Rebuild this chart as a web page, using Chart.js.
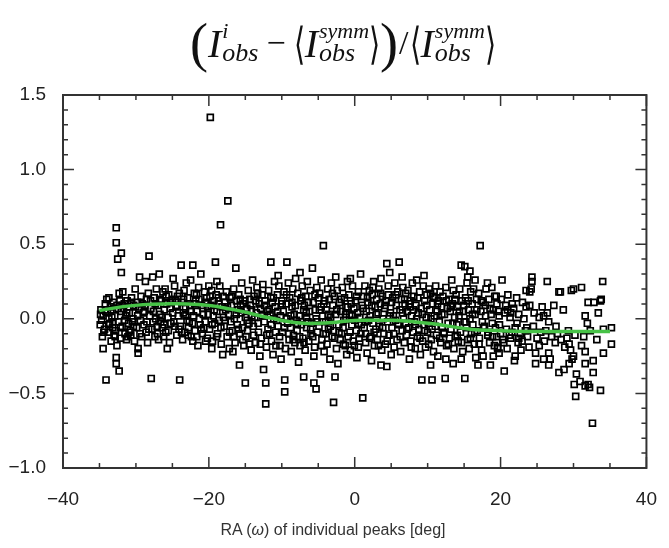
<!DOCTYPE html>
<html>
<head>
<meta charset="utf-8">
<script src="https://cdn.jsdelivr.net/npm/chart.js@4.4.0/dist/chart.umd.min.js"></script>
<style>
  html, body { margin:0; padding:0; background:#fff; }
  #wrap { position:relative; width:669px; height:548px; }
  #chart { position:absolute; left:0; top:0; }
  #formula { position:absolute; top:12px; left:0; width:686px; display:flex; justify-content:center; align-items:center;
             font-family:'Liberation Serif','Times New Roman',serif; color:#111; }
  #formula .I { font-style:italic; font-size:40px; }
  #formula .ss { display:inline-flex; flex-direction:column; font-style:italic; line-height:0.9; margin-left:1px; }
  #formula .sup { font-size:22px; }
  #formula .sub { font-size:26px; }
  #formula .br { font-size:54px; }
  #formula .ang { font-family:'DejaVu Sans'; font-size:44px; font-weight:200; display:inline-block; transform:scaleX(0.65); margin:0 -3px; }
  #formula .op { font-size:34px; margin:0 8px; }
  #xtitle { position:absolute; left:0; width:666px; top:521px; text-align:center;
            font-family:'Liberation Sans',Arial,sans-serif; font-size:16px; color:#333; }
</style>
</head>
<body>
<div id="wrap">
  <canvas id="chart" width="669" height="548"></canvas>
  <div id="formula">
    <span class="br">(</span><span class="I">I</span><span class="ss"><span class="sup">i</span><span class="sub">obs</span></span>
    <span class="op">−</span>
    <span class="ang">⟨</span><span class="I">I</span><span class="ss"><span class="sup">symm</span><span class="sub">obs</span></span><span class="ang">⟩</span><span class="br">)</span><span class="op" style="margin:0 1px">/</span><span class="ang">⟨</span><span class="I">I</span><span class="ss"><span class="sup">symm</span><span class="sub">obs</span></span><span class="ang">⟩</span>
  </div>
  <div id="xtitle">RA (<i>ω</i>) of individual peaks [deg]</div>
</div>
<script>
// axis ranges and ticks
var xTicks = [-40, -20, 0, 20, 40];
var yTicks = [-1.0, -0.5, 0.0, 0.5, 1.0, 1.5];

// smoothed trend (green)
var fitRA    = [-35, -32, -29, -26, -23, -20, -17, -15, -13, -11, -9, -7, -5, -3, -1, 1, 3, 5, 7, 9, 11, 13, 15, 17, 20, 25, 30, 35];
var fitRatio = [0.055, 0.08, 0.095, 0.10, 0.10, 0.09, 0.065, 0.045, 0.02, 0.0, -0.02, -0.03, -0.03, -0.025, -0.015, -0.01, -0.01, -0.01, -0.015, -0.025, -0.035, -0.05, -0.065, -0.075, -0.08, -0.085, -0.085, -0.085];

// individual peaks [RA deg, ratio]
var peaksEast = [
  [-34.9,-0.04],[-34.8,0.06],[-34.6,-0.12],[-34.5,0.02],[-34.3,-0.07],[-34.2,0.10],[-34.1,-0.41],[-34.5,-0.20],[-34.0,0.13],[-34.7,-0.01],
  [-33.9,0.04],[-33.8,-0.09],[-33.7,0.14],[-33.6,-0.03],[-33.5,0.08],[-33.4,-0.15],[-33.3,0.01],[-33.2,-0.06],[-33.1,0.11],[-33.0,-0.11],
  [-32.7,0.61],[-32.7,0.51],[-32.7,-0.26],[-32.7,-0.30],[-32.5,0.40],[-32.3,-0.35],[-32.0,0.44],[-32.0,0.31],
  [-32.9,0.02],[-32.8,-0.08],[-32.6,0.09],[-32.4,-0.02],[-32.2,0.12],[-32.1,-0.13],[-32.0,0.05],[-32.6,-0.18],[-32.3,0.17],
  [-31.9,-0.05],[-31.8,0.18],[-31.7,0.07],[-31.5,-0.10],[-31.4,0.02],[-31.3,-0.14],[-31.2,0.12],[-31.1,-0.12],[-31.0,-0.03],[-31.6,0.10],
  [-30.9,0.04],[-30.8,-0.08],[-30.6,0.14],[-30.5,-0.02],[-30.3,0.09],[-30.2,-0.15],[-30.1,0.20],[-30.7,-0.11],[-30.4,0.00],
  [-29.9,-0.06],[-29.7,-0.20],[-29.7,-0.23],[-29.5,0.28],[-29.6,0.07],[-29.4,-0.01],[-29.3,0.15],[-29.2,-0.12],[-29.0,0.04],[-29.8,0.11],
  [-28.7,0.25],[-28.9,-0.04],[-28.8,0.09],[-28.6,-0.09],[-28.4,-0.16],[-28.3,0.17],[-28.2,0.42],[-28.1,0.02],[-28.5,-0.02],[-28.0,0.12],
  [-27.9,-0.40],[-27.7,0.28],[-27.8,-0.07],[-27.6,0.05],[-27.5,0.14],[-27.4,-0.12],[-27.3,0.00],[-27.2,0.20],[-27.1,-0.05],[-27.0,0.09],
  [-26.8,0.30],[-26.9,-0.14],[-26.7,0.03],[-26.5,0.12],[-26.4,-0.06],[-26.3,0.18],[-26.2,-0.12],[-26.0,0.20],[-26.1,0.06],[-26.6,-0.02],
  [-25.9,-0.09],[-25.8,0.10],[-25.6,0.01],[-25.5,0.16],[-25.4,-0.16],[-25.3,0.07],[-25.2,-0.03],[-25.0,0.13],[-24.9,0.27],[-25.7,-0.20],
  [-24.8,-0.02],[-24.7,0.22],[-24.5,0.08],[-24.4,-0.11],[-24.3,0.15],[-24.2,0.02],[-24.0,-0.41],[-24.1,-0.07],[-24.6,0.12],
  [-23.8,0.36],[-23.9,-0.05],[-23.7,0.11],[-23.6,-0.14],[-23.5,0.04],[-23.4,0.19],[-23.3,-0.09],[-23.2,0.07],[-23.0,-0.01],[-23.1,0.24],
  [-22.9,0.14],[-22.8,-0.06],[-22.6,0.09],[-22.5,0.26],[-22.4,-0.12],[-22.2,0.36],[-22.2,-0.15],[-22.1,0.02],[-22.0,0.17],[-22.7,-0.02],
  [-21.9,-0.08],[-21.8,0.12],[-21.6,0.05],[-21.5,-0.18],[-21.4,0.21],[-21.2,-0.04],[-21.1,0.30],[-21.0,0.09],[-21.3,0.00],[-21.7,0.16],
  [-20.9,-0.10],[-20.8,0.07],[-20.6,0.18],[-20.5,-0.02],[-20.4,0.11],[-20.2,-0.13],[-20.1,0.03],[-20.0,0.22],[-20.7,-0.06],[-20.3,0.14],
  [-19.8,1.35],[-19.9,-0.07],[-19.7,0.09],[-19.6,0.19],[-19.5,-0.15],[-19.4,0.02],[-19.3,0.12],[-19.1,0.38],[-19.2,-0.03],[-19.0,0.16],[-19.6,-0.20],
  [-18.4,0.63],[-18.9,0.05],[-18.8,-0.10],[-18.7,0.14],[-18.6,-0.01],[-18.5,0.22],[-18.3,-0.17],[-18.1,-0.24],[-18.2,0.08],[-18.0,0.01],[-18.9,0.25],
  [-17.4,0.79],[-17.9,-0.05],[-17.8,0.11],[-17.6,0.18],[-17.5,-0.12],[-17.3,0.03],[-17.2,-0.20],[-17.1,0.14],[-17.0,-0.02],[-17.7,0.06],
  [-16.9,0.09],[-16.8,-0.08],[-16.6,0.20],[-16.5,0.00],[-16.4,-0.16],[-16.3,0.34],[-16.2,0.12],[-16.1,-0.04],[-16.0,0.06],[-16.7,-0.22],
  [-15.9,0.16],[-15.8,-0.31],[-15.8,-0.10],[-15.6,0.04],[-15.5,0.24],[-15.4,-0.06],[-15.3,0.10],[-15.0,-0.43],[-15.2,-0.18],[-15.0,0.01],[-15.7,0.13],
  [-14.9,-0.12],[-14.8,0.07],[-14.6,0.19],[-14.5,-0.03],[-14.4,0.13],[-14.2,-0.21],[-14.1,0.02],[-14.0,0.26],[-14.7,-0.08],[-14.3,0.09],
  [-13.9,-0.05],[-13.8,0.15],[-13.6,-0.16],[-13.5,0.04],[-13.4,0.21],[-13.2,-0.09],[-13.1,0.10],[-13.0,-0.25],[-13.7,0.01],[-13.3,0.17],
  [-12.9,0.07],[-12.8,-0.13],[-12.6,0.23],[-12.5,-0.34],[-12.4,-0.02],[-12.2,-0.43],[-12.2,-0.57],[-12.3,0.12],[-12.1,-0.19],[-12.0,0.05],[-12.7,0.16],
  [-11.9,-0.07],[-11.8,0.19],[-11.6,0.03],[-11.5,0.38],[-11.4,-0.15],[-11.3,0.11],[-11.2,-0.24],[-11.1,0.00],[-11.0,0.25],[-11.7,-0.10],[-11.5,0.14],
  [-10.9,0.08],[-10.8,-0.18],[-10.6,0.16],[-10.5,-0.05],[-10.4,0.22],[-10.3,-0.12],[-10.2,0.02],[-10.1,-0.27],[-10.0,0.12],[-10.7,-0.01],[-10.5,0.29]
];

var peaksCentre = [
  [-9.9,-0.09],[-9.8,0.05],[-9.6,-0.41],[-9.6,-0.49],[-9.3,0.38],[-9.7,0.18],[-9.5,-0.20],[-9.4,0.10],[-9.2,-0.03],[-9.1,0.24],[-9.0,-0.14],[-9.3,0.00],
  [-8.9,0.14],[-8.8,-0.06],[-8.7,-0.22],[-8.6,0.08],[-8.5,0.20],[-8.4,-0.11],[-8.3,0.03],[-8.2,-0.16],[-8.1,0.27],[-8.0,-0.01],[-8.6,0.11],
  [-7.9,-0.08],[-7.7,-0.29],[-7.8,0.17],[-7.6,0.02],[-7.5,-0.18],[-7.4,0.12],[-7.3,-0.04],[-7.2,0.22],[-7.1,-0.13],[-7.0,-0.39],[-7.0,0.06],[-7.5,0.31],
  [-6.9,0.09],[-6.8,-0.21],[-6.7,0.15],[-6.6,-0.06],[-6.5,0.25],[-6.4,-0.02],[-6.3,-0.15],[-6.2,0.05],[-6.1,0.19],[-6.0,-0.10],[-6.6,0.01],
  [-5.8,0.34],[-5.6,-0.43],[-5.3,-0.47],[-5.9,-0.03],[-5.7,0.11],[-5.5,-0.19],[-5.4,0.06],[-5.2,0.21],[-5.1,-0.09],[-5.0,0.14],[-5.6,-0.25],[-5.3,0.00],
  [-4.9,-0.05],[-4.7,-0.37],[-4.8,0.17],[-4.6,0.08],[-4.5,-0.14],[-4.3,0.49],[-4.4,0.02],[-4.2,-0.22],[-4.1,0.12],[-4.0,-0.02],[-4.6,0.26],[-4.3,-0.10],
  [-3.9,0.06],[-3.8,-0.17],[-3.7,0.20],[-3.6,-0.07],[-3.5,0.13],[-3.4,-0.27],[-3.3,0.01],[-3.2,0.24],[-3.1,-0.12],[-3.0,0.09],[-3.6,-0.02],
  [-2.9,-0.56],[-2.7,-0.39],[-2.3,-0.30],[-2.9,-0.08],[-2.8,0.15],[-2.6,0.03],[-2.5,-0.20],[-2.4,0.19],[-2.2,-0.04],[-2.1,0.11],[-2.0,-0.14],[-2.6,0.28],
  [-1.9,0.05],[-1.8,-0.10],[-1.7,0.21],[-1.5,-0.01],[-1.4,0.14],[-1.3,-0.18],[-1.2,0.08],[-1.1,-0.24],[-1.0,0.25],[-1.6,-0.06],[-1.2,0.01],
  [-0.9,-0.12],[-0.8,0.16],[-0.7,0.03],[-0.6,-0.21],[-0.5,0.10],[-0.4,-0.04],[-0.3,0.22],[-0.2,-0.15],[-0.1,0.07],[0.0,-0.01],[-0.6,0.27],
  [0.1,0.12],[0.2,-0.08],[0.3,-0.26],[0.4,0.04],[0.5,0.18],[0.6,-0.13],[0.7,0.01],[0.8,0.30],[0.9,-0.04],[1.0,0.09],[0.5,-0.19],
  [1.1,-0.53],[1.2,0.15],[1.3,-0.06],[1.4,0.22],[1.5,-0.16],[1.6,0.05],[1.7,-0.23],[1.8,0.11],[1.9,-0.01],[2.0,0.19],[1.5,-0.10],
  [2.1,0.02],[2.2,-0.12],[2.3,-0.28],[2.4,0.16],[2.5,-0.03],[2.6,0.25],[2.7,-0.18],[2.8,0.08],[2.9,-0.07],[3.0,0.13],[2.5,0.21],
  [3.1,-0.14],[3.2,0.04],[3.3,0.20],[3.4,-0.05],[3.6,-0.31],[3.5,0.10],[3.7,-0.21],[3.8,0.15],[3.9,0.00],[4.0,-0.10],[3.6,0.27],
  [4.1,0.07],[4.2,-0.17],[4.4,0.37],[4.4,-0.32],[4.3,0.12],[4.5,-0.02],[4.6,0.22],[4.7,-0.11],[4.8,0.31],[4.9,0.04],[5.0,-0.24],[4.6,0.16],
  [5.1,-0.06],[5.2,0.14],[5.3,0.02],[5.4,-0.19],[5.5,0.24],[5.6,-0.01],[5.7,0.09],[5.8,-0.14],[5.9,0.18],[6.0,-0.04],[6.1,0.38],
  [6.2,0.06],[6.3,-0.22],[6.4,0.13],[6.5,-0.08],[6.6,0.21],[6.7,0.00],[6.8,-0.16],[6.9,0.10],[7.0,-0.03],[6.5,0.28],[7.0,0.17],
  [7.1,-0.11],[7.2,0.05],[7.3,0.19],[7.4,-0.06],[7.5,-0.27],[7.6,0.12],[7.7,-0.15],[7.8,0.02],[7.9,0.24],[8.0,-0.09],[7.6,0.08],
  [8.1,0.15],[8.2,-0.02],[8.3,-0.20],[8.4,0.09],[8.5,0.26],[8.6,-0.12],[8.7,0.04],[8.8,-0.07],[8.9,0.18],[9.0,-0.24],[8.5,0.00],
  [9.1,0.07],[9.2,-0.41],[9.3,-0.15],[9.4,0.22],[9.5,-0.04],[9.6,0.12],[9.7,-0.19],[9.8,0.01],[9.9,0.16],[10.0,-0.09],[9.5,0.29],
  [10.1,-0.03],[10.2,0.20],[10.4,-0.31],[10.4,0.17],[10.6,-0.41],[10.3,0.06],[10.5,-0.14],[10.7,0.10],[10.8,-0.22],[10.9,0.02],[11.0,0.14],[11.1,0.22],[10.6,-0.07],
  [11.2,-0.11],[11.3,0.05],[11.4,-0.25],[11.5,0.12],[11.6,-0.02],[11.7,0.18],[11.8,-0.16],[11.9,0.08],[12.0,-0.06],
  [12.1,0.15],[12.2,-0.09],[12.3,0.03],[12.4,-0.40],[12.5,0.21],[12.6,-0.18],[12.7,0.07],[12.8,-0.03],[12.9,0.13],[13.0,-0.13],[12.5,-0.27],
  [13.1,0.05],[13.2,-0.07],[13.4,0.10],[13.5,0.19],[13.6,-0.20],[13.7,0.01],[13.8,-0.12],[13.9,0.16],[14.0,-0.04],[13.5,-0.30],[13.3,0.26],
  [14.1,0.08],[14.2,-0.15],[14.3,0.02],[14.4,0.20],[14.6,0.36],[14.5,-0.09],[14.7,0.12],[14.8,-0.22],[14.9,0.05],[15.0,-0.02],[14.6,-0.27]
];

var peaksWest = [
  [15.1,0.35],[15.1,-0.40],[15.2,0.14],[15.3,-0.06],[15.4,0.24],[15.5,-0.14],[15.6,0.06],[15.8,0.32],[15.7,-0.20],[15.9,0.18],[16.0,-0.10],[15.5,0.28],[15.8,0.00],
  [16.1,0.10],[16.2,-0.04],[16.3,0.20],[16.4,-0.17],[16.5,0.03],[16.6,-0.26],[16.7,0.13],[16.8,-0.08],[16.9,-0.31],[17.0,0.17],[17.2,0.49],[16.5,0.26],
  [17.1,-0.13],[17.3,0.05],[17.4,-0.21],[17.6,-0.25],[17.6,0.11],[17.8,-0.05],[17.9,0.09],[18.0,0.20],[18.2,0.24],[17.5,-0.02],
  [18.3,-0.09],[18.4,0.13],[18.6,-0.31],[18.5,-0.16],[18.7,0.03],[18.9,-0.12],[19.0,-0.25],[19.2,0.15],[19.0,0.06],[18.8,0.21],
  [19.3,-0.06],[19.5,0.10],[19.6,-0.19],[19.8,-0.23],[19.8,0.02],[20.0,-0.10],[20.2,0.26],[20.1,0.13],[19.7,0.05],[19.4,0.15],[19.6,-0.20],
  [20.3,-0.14],[20.5,-0.35],[20.6,0.04],[20.7,0.09],[20.8,-0.07],[21.0,0.16],[21.2,-0.11],[21.4,-0.13],[21.6,0.10],[21.3,0.01],[20.9,-0.20],[21.4,0.04],
  [21.9,-0.28],[21.8,0.07],[22.0,-0.06],[22.2,0.14],[22.4,-0.16],[22.5,0.03],[22.7,-0.10],[23.0,0.11],[22.8,-0.21],[23.2,0.00],[22.0,-0.25],[22.5,-0.13],
  [23.5,0.19],[23.9,-0.19],[24.0,0.18],[24.0,0.09],[24.3,0.28],[24.3,0.25],[23.7,-0.12],[24.5,-0.05],[24.8,-0.30],[24.8,-0.23],[24.6,0.04],[23.4,-0.08],[23.5,0.08],[24.2,0.20],
  [25.3,-0.18],[25.3,0.01],[25.7,0.08],[25.0,-0.13],[25.5,-0.09],[25.9,0.02],[26.4,0.25],[26.4,0.04],[26.6,-0.02],[26.6,-0.23],[26.6,-0.31],[26.0,-0.15],[26.2,-0.08],[25.9,-0.27],[26.8,-0.27],
  [27.3,0.09],[27.0,-0.12],[27.5,-0.16],[28.0,0.18],[28.6,0.06],[28.0,-0.36],[28.7,-0.34],[27.8,-0.10],[28.3,-0.14],[28.8,-0.19],[27.6,-0.05],[28.2,0.18],
  [29.4,-0.30],[29.8,-0.27],[29.4,-0.17],[29.1,-0.13],[29.6,-0.21],[30.0,0.20],[30.1,-0.44],[30.3,-0.52],[30.4,-0.37],[30.2,-0.11],[29.3,-0.08],[29.7,0.19],[30.0,-0.25],[30.9,-0.42],
  [31.1,0.21],[31.6,0.02],[31.6,-0.45],[32.2,-0.46],[31.6,-0.30],[31.6,-0.22],[31.1,-0.18],[32.0,0.11],[32.6,-0.70],[32.7,-0.36],[32.7,-0.28],[31.4,-0.12],[32.3,-0.08],[31.9,-0.03],[32.0,-0.44],
  [32.8,0.11],[33.8,0.13],[33.4,0.04],[34.0,0.25],[33.7,-0.48],[34.1,-0.23],[35.2,-0.06],[34.1,-0.07],[35.2,-0.17],[33.2,-0.14],[33.7,0.12]
];

// the packed black band close to the trend
var peaksCore = [
  [-34.85,0.03],[-34.4,-0.09],[-34.15,0.05],[-33.75,-0.04],[-33.45,0.06],[-33.15,-0.02],[-32.85,-0.12],[-32.45,0.07],
  [-32.15,-0.06],[-31.85,0.09],[-31.55,-0.01],[-31.25,0.04],[-30.95,-0.09],[-30.65,0.11],[-30.35,-0.05],[-30.05,0.08],
  [-29.75,0.02],[-29.45,-0.10],[-29.15,0.10],[-28.85,0.05],[-28.55,0.13],[-28.25,-0.07],[-27.95,0.07],[-27.65,-0.02],
  [-27.35,0.10],[-27.05,-0.10],[-26.75,0.13],[-26.45,0.01],[-26.15,-0.04],[-25.85,0.15],[-25.55,-0.08],[-25.25,0.11],
  [-24.95,0.04],[-24.65,-0.05],[-24.35,0.09],[-24.05,0.17],[-23.75,-0.09],[-23.45,0.13],[-23.15,0.02],[-22.85,-0.11],
  [-22.55,0.05],[-22.25,-0.03],[-21.95,0.10],[-21.65,-0.12],[-21.35,0.13],[-21.05,-0.07],[-20.75,0.03],[-20.45,-0.15],
  [-20.15,0.08],[-19.85,0.15],[-19.55,-0.04],[-19.25,0.06],[-18.95,-0.12],[-18.65,0.10],[-18.35,-0.06],[-18.05,0.15],
  [-17.75,-0.01],[-17.45,0.08],[-17.15,-0.09],[-16.85,0.15],[-16.55,-0.12],[-16.25,0.03],[-15.95,-0.07],[-15.65,0.09],
  [-15.35,-0.14],[-15.05,0.12],[-14.75,-0.01],[-14.45,-0.17],[-14.15,0.06],[-13.85,-0.11],[-13.55,0.12],[-13.25,-0.03],
  [-12.95,-0.17],[-12.65,0.02],[-12.35,0.09],[-12.05,-0.11],[-11.75,0.06],[-11.45,-0.04],[-11.15,0.14],[-10.85,-0.09],
  [-10.55,0.05],[-10.25,-0.18],[-9.95,0.10],[-9.65,-0.06],[-9.35,0.16],[-9.05,-0.10],[-8.75,0.02],[-8.45,-0.14],
  [-8.15,0.09],[-7.85,-0.03],[-7.55,-0.12],[-7.25,0.14],[-6.95,-0.16],[-6.65,0.04],[-6.35,0.11],[-6.05,-0.07],
  [-5.75,-0.12],[-5.45,0.16],[-5.15,-0.02],[-4.85,0.06],[-4.55,-0.18],[-4.25,0.10],[-3.95,-0.10],[-3.65,0.03],
  [-3.35,-0.05],[-3.05,0.17],[-2.75,-0.13],[-2.45,0.06],[-2.15,-0.09],[-1.85,0.13],[-1.55,-0.17],[-1.25,0.03],
  [-0.95,0.08],[-0.65,-0.09],[-0.35,0.02],[-0.05,-0.18],[0.25,0.15],[0.55,-0.03],[0.85,-0.10],[1.15,0.07],
  [1.45,-0.02],[1.75,0.14],[2.05,-0.13],[2.35,0.09],[2.65,-0.09],[2.95,0.03],[3.25,-0.18],[3.55,0.17],
  [3.85,-0.06],[4.15,0.09],[4.45,-0.15],[4.75,0.02],[5.05,0.11],[5.35,-0.10],[5.65,0.16],[5.95,-0.03],
  [6.25,-0.12],[6.55,0.04],[6.85,0.13],[7.15,-0.07],[7.45,0.10],[7.75,-0.19],[8.05,0.06],[8.35,-0.04],
  [8.65,0.14],[8.95,-0.13],[9.25,0.03],[9.55,-0.08],[9.85,0.09],[10.15,-0.17],[10.45,0.00],[10.75,0.15],
  [11.05,-0.05],[11.35,0.10],[11.65,-0.13],[11.95,0.03],[12.25,-0.10],[12.55,0.12],[12.85,-0.17],[13.15,0.08],
  [13.45,-0.03],[13.75,0.13],[14.05,-0.11],[14.35,0.05],[14.65,-0.16],[14.95,0.09],[15.25,-0.02],[15.55,0.12],
  [15.85,-0.13],[16.15,0.03],[16.45,-0.09],[16.75,0.06],[17.05,-0.17],[17.35,0.12],[17.65,-0.06],[17.95,0.02],
  [18.25,-0.11],[18.55,0.07],[18.85,-0.03],[19.15,-0.18],[19.45,-0.12],[19.85,-0.04],[20.45,-0.16],[20.95,0.06],
  [21.55,-0.09],[22.25,-0.03],[22.95,-0.15],[23.6,-0.06]
];

var allPeaks = peaksEast.concat(peaksCentre, peaksWest, peaksCore);

var insideTicks = {
  id: 'insideTicks',
  afterDraw: function(chart){
    var ctx = chart.ctx, a = chart.chartArea, sx = chart.scales.x, sy = chart.scales.y;
    ctx.save();
    ctx.strokeStyle = '#333';
    ctx.lineWidth = 1.5;
    ctx.beginPath();
    for (var v = -40; v <= 40; v += 5) {
      var px = sx.getPixelForValue(v);
      var len = (v % 20 === 0) ? 11 : 5;
      ctx.moveTo(px, a.bottom); ctx.lineTo(px, a.bottom - len);
      ctx.moveTo(px, a.top); ctx.lineTo(px, a.top + len);
    }
    for (var k = -10; k <= 15; k++) {
      var py = sy.getPixelForValue(k / 10);
      var l2 = (k % 5 === 0) ? 11 : 5;
      ctx.moveTo(a.left, py); ctx.lineTo(a.left + l2, py);
      ctx.moveTo(a.right, py); ctx.lineTo(a.right - l2, py);
    }
    ctx.stroke();
    ctx.lineWidth = 2;
    ctx.strokeRect(a.left, a.top, a.right - a.left, a.bottom - a.top);
    ctx.restore();
  }
};

function minusSign(s){ return String(s).replace('-', '\u2212'); }

var ctx = document.getElementById('chart').getContext('2d');
new Chart(ctx, {
  type: 'scatter',
  data: {
    datasets: [
      {
        type: 'line',
        data: fitRA.map(function(x, i){ return {x: x, y: fitRatio[i]}; }),
        borderColor: '#47c247',
        borderWidth: 3.5,
        pointRadius: 0,
        tension: 0.4,
        fill: false
      },
      {
        data: allPeaks.map(function(p){ return {x: p[0], y: p[1]}; }),
        pointStyle: 'rect',
        pointRadius: 4.2,
        pointBorderWidth: 1.7,
        pointBorderColor: '#000',
        pointBackgroundColor: 'rgba(0,0,0,0)'
      }
    ]
  },
  options: {
    responsive: false,
    animation: false,
    layout: { padding: { top: 95, right: 14, left: 0, bottom: 0 } },
    plugins: { legend: { display: false }, tooltip: { enabled: false } },
    scales: {
      x: {
        type: 'linear', min: -40, max: 40,
        afterBuildTicks: function(s){ s.ticks = xTicks.map(function(v){ return {value: v}; }); },
        afterFit: function(s){ s.height = 80; },
        grid: { display: false },
        border: { display: false },
        ticks: { padding: 12, color: '#222', font: { family: 'Liberation Sans', size: 19 },
                 maxRotation: 0, callback: function(v){ return minusSign(v); } }
      },
      y: {
        type: 'linear', min: -1.0, max: 1.5,
        afterBuildTicks: function(s){ s.ticks = yTicks.map(function(v){ return {value: v}; }); },
        afterFit: function(s){ s.width = 63; },
        grid: { display: false },
        border: { display: false },
        ticks: { padding: 9, color: '#222', font: { family: 'Liberation Sans', size: 19 },
                 callback: function(v){ return minusSign(v.toFixed(1)); } }
      }
    }
  },
  plugins: [insideTicks]
});
</script>
</body>
</html>
